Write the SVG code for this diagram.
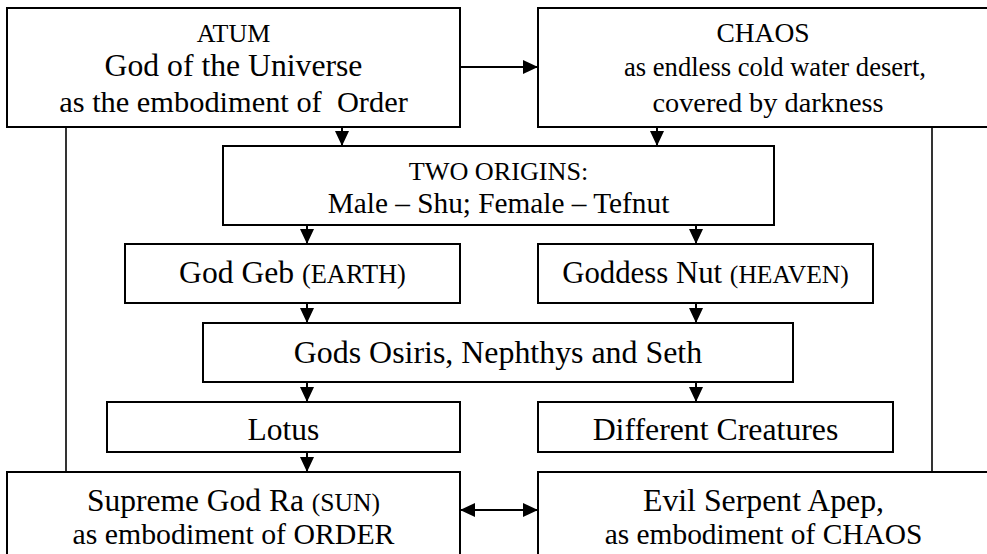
<svg xmlns="http://www.w3.org/2000/svg" width="987" height="554" viewBox="0 0 987 554">
  <style>
    .box { fill: #ffffff; stroke: #000000; stroke-width: 2; }
    .t { font-family: 'Liberation Serif', 'DejaVu Serif', serif; fill: #000000; text-anchor: middle; white-space: pre; }
    .wire { fill: none; stroke: #000000; stroke-width: 2; }
    .side { fill: none; stroke: #000000; stroke-width: 1.6; }
  </style>
  <defs>
    <marker id="head" markerUnits="userSpaceOnUse" markerWidth="16" markerHeight="14" refX="15" refY="7" orient="auto">
      <path d="M0,0 L15,7 L0,14 z" fill="#000000"/>
    </marker>
    <marker id="tail" markerUnits="userSpaceOnUse" markerWidth="16" markerHeight="14" refX="0" refY="7" orient="auto">
      <path d="M15,0 L0,7 L15,14 z" fill="#000000"/>
    </marker>
  </defs>

  <rect width="987" height="554" fill="#ffffff"/>

  <!-- connectors -->
  <g id="connectors">
    <line class="side" x1="66" y1="127" x2="66" y2="472"/>
    <line class="side" x1="932" y1="127" x2="932" y2="472"/>
    <line class="wire" x1="460" y1="67" x2="538" y2="67" marker-end="url(#head)"/>
    <line class="wire" x1="460" y1="510" x2="538" y2="510" marker-start="url(#tail)" marker-end="url(#head)"/>
    <line class="wire" x1="342" y1="127" x2="342" y2="146" marker-end="url(#head)"/>
    <line class="wire" x1="657" y1="127" x2="657" y2="146" marker-end="url(#head)"/>
    <line class="wire" x1="307" y1="225" x2="307" y2="244" marker-end="url(#head)"/>
    <line class="wire" x1="696" y1="225" x2="696" y2="244" marker-end="url(#head)"/>
    <line class="wire" x1="307" y1="303" x2="307" y2="323" marker-end="url(#head)"/>
    <line class="wire" x1="696" y1="303" x2="696" y2="323" marker-end="url(#head)"/>
    <line class="wire" x1="307" y1="382" x2="307" y2="402" marker-end="url(#head)"/>
    <line class="wire" x1="696" y1="382" x2="696" y2="402" marker-end="url(#head)"/>
    <line class="wire" x1="307" y1="452" x2="307" y2="472" marker-end="url(#head)"/>
  </g>

  <g id="atum">
    <rect class="box" x="7" y="8" width="453" height="119"/>
    <text class="t" x="233.5" y="42" font-size="26">ATUM</text>
    <text class="t" x="233.5" y="76" font-size="31.7">God of the Universe</text>
    <text class="t" x="233.5" y="112" font-size="30.4">as the embodiment of  Order</text>
  </g>

  <g id="chaos">
    <rect class="box" x="538" y="8" width="452" height="119"/>
    <text class="t" x="763" y="42" font-size="27.5">CHAOS</text>
    <text class="t" x="775" y="76" font-size="26.6">as endless cold water desert,</text>
    <text class="t" x="768" y="112" font-size="28.3">covered by darkness</text>
  </g>

  <g id="two-origins">
    <rect class="box" x="223" y="146" width="551" height="79"/>
    <text class="t" x="498.5" y="180" font-size="26.2">TWO ORIGINS:</text>
    <text class="t" x="498.5" y="213" font-size="29.3">Male – Shu; Female – Tefnut</text>
  </g>

  <g id="geb">
    <rect class="box" x="125" y="244" width="335" height="59"/>
    <text class="t" x="292.5" y="283" font-size="31.6">God Geb <tspan font-size="26.4">(EARTH)</tspan></text>
  </g>

  <g id="nut">
    <rect class="box" x="538" y="244" width="335" height="59"/>
    <text class="t" x="705.5" y="283" font-size="30.8">Goddess Nut <tspan font-size="25.6">(HEAVEN)</tspan></text>
  </g>

  <g id="osiris">
    <rect class="box" x="203" y="323" width="590" height="59"/>
    <text class="t" x="498" y="363" font-size="31.9">Gods Osiris, Nephthys and Seth</text>
  </g>

  <g id="lotus">
    <rect class="box" x="107" y="402" width="353" height="50"/>
    <text class="t" x="283.5" y="439.5" font-size="31.5">Lotus</text>
  </g>

  <g id="creatures">
    <rect class="box" x="538" y="402" width="355" height="50"/>
    <text class="t" x="715.5" y="439.5" font-size="31.8">Different Creatures</text>
  </g>

  <g id="ra">
    <rect class="box" x="7" y="472" width="453" height="90"/>
    <text class="t" x="233.5" y="510.5" font-size="31.5">Supreme God Ra <tspan font-size="25.6">(SUN)</tspan></text>
    <text class="t" x="233.5" y="543.5" font-size="29.8">as embodiment of ORDER</text>
  </g>

  <g id="apep">
    <rect class="box" x="538" y="472" width="452" height="90"/>
    <text class="t" x="763.5" y="510.5" font-size="31.8">Evil Serpent Apep,</text>
    <text class="t" x="763.5" y="543.5" font-size="29.4">as embodiment of CHAOS</text>
  </g>
</svg>
